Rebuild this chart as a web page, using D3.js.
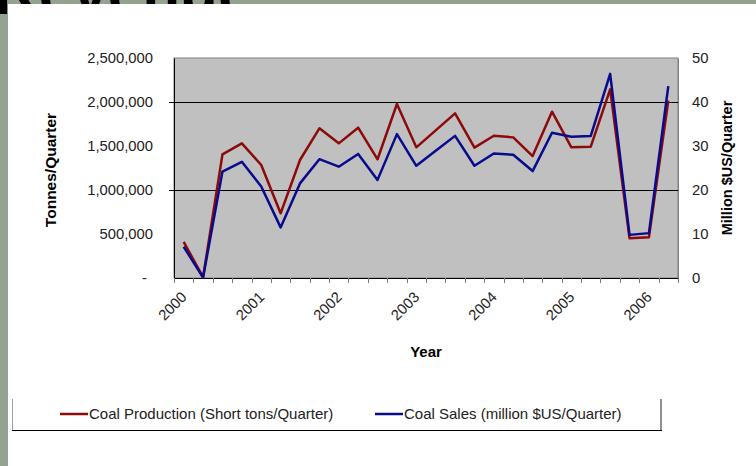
<!DOCTYPE html>
<html>
<head>
<meta charset="utf-8">
<script src="https://cdn.jsdelivr.net/npm/d3@7"></script>
<style>
  html, body { margin: 0; padding: 0; background: #fff; }
  svg { display: block; font-family: "Liberation Sans", Arial, sans-serif; }
</style>
</head>
<body>
<svg id="chart" width="756" height="466"></svg>
<script>
// Quarterly categories, 2000 Q1 – 2006 Q2
const quarters = [
  "2000 Q1","2000 Q2","2000 Q3","2000 Q4",
  "2001 Q1","2001 Q2","2001 Q3","2001 Q4",
  "2002 Q1","2002 Q2","2002 Q3","2002 Q4",
  "2003 Q1","2003 Q2","2003 Q3","2003 Q4",
  "2004 Q1","2004 Q2","2004 Q3","2004 Q4",
  "2005 Q1","2005 Q2","2005 Q3","2005 Q4",
  "2006 Q1","2006 Q2"
];
// Year label shown under the first quarter of each year
const yearLabels = ["2000","2001","2002","2003","2004","2005","2006"];

// Coal production, short tons per quarter (left axis)
const production = [
  410000, 10000, 1405000, 1530000, 1284000, 735000, 1341000, 1701000,
  1530000, 1708000, 1349000, 1977000, 1485000, 1678000, 1871000, 1481000,
  1617000, 1598000, 1386000, 1890000, 1485000, 1492000, 2144000, 451000,
  462000, 2015000
];
// Coal sales, million $US per quarter (right axis)
const sales = [
  7.1, 0.1, 24.2, 26.4, 20.8, 11.5, 21.5, 27.0,
  25.3, 28.2, 22.3, 32.7, 25.5, 28.9, 32.3, 25.5,
  28.3, 28.0, 24.3, 33.0, 32.1, 32.3, 46.4, 9.8,
  10.2, 43.6
];

const leftTicks = [0, 500000, 1000000, 1500000, 2000000, 2500000];
const rightTicks = [0, 10, 20, 30, 40, 50];
const gridValues = [1000000, 2000000];

const seriesNames = [
  "Coal Production (Short tons/Quarter)",
  "Coal Sales (million $US/Quarter)"
];
const colors = ["#8c0a0a", "#0a0a8c"];

const svg = d3.select("#chart");
const W = 756, H = 466;

// Slide backdrop: green-grey frame with the heading partly hidden behind the panel
svg.append("rect").attr("width", W).attr("height", H).attr("fill", "#93a38f");
svg.append("text")
  .attr("x", -6).attr("y", 14)
  .attr("font-size", 62).attr("font-weight", "bold")
  .attr("fill", "#000")
  .text("Revenue");
svg.append("rect").attr("x", 8).attr("y", 4).attr("width", W - 8).attr("height", H - 4).attr("fill", "#fff");

const plot = { left: 174, right: 678, top: 58, bottom: 278 };

const x = d3.scaleBand().domain(quarters).range([plot.left, plot.right]).padding(0);
const yL = d3.scaleLinear().domain([0, 2500000]).range([plot.bottom, plot.top]);
const yR = d3.scaleLinear().domain([0, 50]).range([plot.bottom, plot.top]);

// Plot area
svg.append("rect")
  .attr("x", plot.left).attr("y", plot.top)
  .attr("width", plot.right - plot.left).attr("height", plot.bottom - plot.top)
  .attr("fill", "#c0c0c0").attr("stroke", "#808080").attr("stroke-width", 1);

// Major gridlines
svg.append("g").selectAll("line").data(gridValues).join("line")
  .attr("x1", plot.left - 5).attr("x2", plot.right)
  .attr("y1", d => Math.round(yL(d)) + 0.5).attr("y2", d => Math.round(yL(d)) + 0.5)
  .attr("stroke", "#000").attr("stroke-width", 1);

// Left axis
const fmtL = d => d === 0 ? "-" : d3.format(",")(d);
const axL = svg.append("g").attr("transform", `translate(${plot.left},0)`)
  .call(d3.axisLeft(yL).tickValues(leftTicks).tickFormat(fmtL).tickSize(0).tickPadding(21));
axL.select(".domain").attr("stroke", "#000");
axL.selectAll("text").attr("font-size", 14.8).attr("fill", "#222")
  .attr("font-family", "'Liberation Sans', Arial, sans-serif")
  .attr("dx", d => d === 0 ? -6 : 0);

// Right axis
const axR = svg.append("g").attr("transform", `translate(${plot.right},0)`)
  .call(d3.axisRight(yR).tickValues(rightTicks).tickSize(0).tickPadding(14));
axR.select(".domain").attr("stroke", "#808080");
axR.selectAll("text").attr("font-size", 14.8).attr("fill", "#222")
  .attr("font-family", "'Liberation Sans', Arial, sans-serif");

// Bottom axis: ticks at category boundaries, year labels under each Q1
const bounds = quarters.map(q => x(q)).concat([plot.right]);
svg.append("line")
  .attr("x1", plot.left).attr("x2", plot.right)
  .attr("y1", plot.bottom + 0.5).attr("y2", plot.bottom + 0.5)
  .attr("stroke", "#000");
svg.append("g").selectAll("line").data(bounds).join("line")
  .attr("x1", d => Math.round(d) + 0.5).attr("x2", d => Math.round(d) + 0.5)
  .attr("y1", plot.bottom).attr("y2", plot.bottom + 5)
  .attr("stroke", "#7a7a7a");

const q1 = quarters.filter(q => q.endsWith("Q1"));
svg.append("g").selectAll("text").data(q1).join("text")
  .attr("transform", q => `translate(${x(q) + x.bandwidth() / 2 + 4},${plot.bottom + 20}) rotate(-45)`)
  .attr("text-anchor", "end")
  .attr("font-size", 14.8).attr("fill", "#222")
  .text((q, i) => yearLabels[i]);

// Axis titles
svg.append("text")
  .attr("transform", `translate(56,${(plot.top + plot.bottom) / 2 + 2}) rotate(-90)`)
  .attr("text-anchor", "middle").attr("font-size", 15.5).attr("font-weight", "bold")
  .text("Tonnes/Quarter");
svg.append("text")
  .attr("transform", `translate(732,${(plot.top + plot.bottom) / 2}) rotate(-90)`)
  .attr("text-anchor", "middle").attr("font-size", 14.5).attr("font-weight", "bold")
  .text("Million $US/Quarter");
svg.append("text")
  .attr("x", 426).attr("y", 357)
  .attr("text-anchor", "middle").attr("font-size", 15).attr("font-weight", "bold")
  .text("Year");

// Series lines
const cx = q => x(q) + x.bandwidth() / 2;
const lineL = d3.line().x((d, i) => cx(quarters[i])).y(d => yL(d));
const lineR = d3.line().x((d, i) => cx(quarters[i])).y(d => yR(d));
svg.append("path").datum(production).attr("d", lineL)
  .attr("fill", "none").attr("stroke", colors[0]).attr("stroke-width", 2.5).attr("stroke-linejoin", "round");
svg.append("path").datum(sales).attr("d", lineR)
  .attr("fill", "none").attr("stroke", colors[1]).attr("stroke-width", 2.5).attr("stroke-linejoin", "round");

// Legend
const lg = svg.append("g");
lg.append("line").attr("x1", 12.5).attr("x2", 12.5).attr("y1", 399).attr("y2", 430).attr("stroke", "#a0a0a0");
lg.append("line").attr("x1", 661).attr("x2", 661).attr("y1", 399).attr("y2", 431).attr("stroke", "#909090").attr("stroke-width", 2);
lg.append("line").attr("x1", 12).attr("x2", 662).attr("y1", 430.5).attr("y2", 430.5).attr("stroke", "#000");
const legendX = [60, 375];
seriesNames.forEach((name, i) => {
  lg.append("line").attr("x1", legendX[i]).attr("x2", legendX[i] + 28)
    .attr("y1", 414).attr("y2", 414).attr("stroke", colors[i]).attr("stroke-width", 2.5);
  lg.append("text").attr("x", legendX[i] + 29).attr("y", 419)
    .attr("font-size", 15).attr("fill", "#222").text(name);
});
</script>
</body>
</html>
